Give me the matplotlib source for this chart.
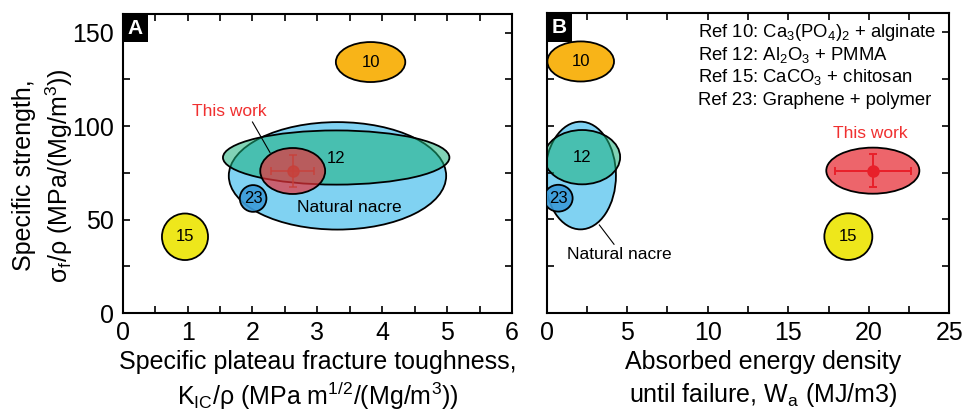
"""
Specific strength vs. toughness / absorbed energy for nacre-like composites
"""

import matplotlib
matplotlib.use('Agg')
import matplotlib.pyplot as plt
from matplotlib.patches import Ellipse, Rectangle
from matplotlib.ticker import MultipleLocator

plt.rcParams['font.family'] = ['Liberation Sans', 'DejaVu Sans']
plt.rcParams['mathtext.fontset'] = 'custom'
plt.rcParams['mathtext.rm'] = 'Liberation Sans'
plt.rcParams['mathtext.it'] = 'Liberation Sans:italic'
plt.rcParams['mathtext.bf'] = 'Liberation Sans:bold'

# Literature composites (ellipse centres and full spans)
ref_labels = ['10', '12', '15', '23']
ref_colors = ['#F8B418', '#1AB07A', '#EEE71B', '#3A9BD9']
ref_alpha = [1.0, 0.55, 1.0, 0.9]
ref_strength = [134.3, 83.2, 40.8, 61.3]
ref_strength_span = [21.4, 29.0, 24.9, 14.3]
ref_toughness = [3.82, 3.29, 0.96, 2.01]
ref_toughness_span = [1.07, 3.49, 0.71, 0.41]
ref_energy = [2.11, 2.2, 18.73, 0.72]
ref_energy_span = [4.14, 4.72, 2.98, 1.78]
ref_legend = ['Ref 10: Ca$_3$(PO$_4$)$_2$ + alginate',
              'Ref 12: Al$_2$O$_3$ + PMMA',
              'Ref 15: CaCO$_3$ + chitosan',
              'Ref 23: Graphene + polymer']

# Natural nacre
nacre_strength = 73.4
nacre_strength_span = 57.5
nacre_toughness = 3.31
nacre_toughness_span = 3.35
nacre_energy = 2.1
nacre_energy_span = 4.4

# This work (mean +/- error, plus ellipse span)
work_strength = 76.0
work_strength_err = 8.7
work_strength_span = 24.6
work_toughness = 2.62
work_toughness_err = 0.33
work_toughness_span = 1.0
work_energy = 20.25
work_energy_err = 2.36
work_energy_span = 5.78

RED = '#E8323A'
EDGE_LW = 1.3
LABEL_SIZE = 18


def add_ellipse(ax, x, y, w, h, color, alpha=1.0, z=2):
    ax.add_patch(Ellipse((x, y), w, h, facecolor=color, alpha=alpha,
                         edgecolor='none', zorder=z))
    ax.add_patch(Ellipse((x, y), w, h, facecolor='none', edgecolor='black',
                         linewidth=EDGE_LW, zorder=z + 0.1))


def style_axes(ax):
    ax.tick_params(which='both', direction='in', top=True, right=True,
                   length=5, width=1.2, labelsize=LABEL_SIZE, pad=6)
    for sp in ax.spines.values():
        sp.set_linewidth(1.5)


def panel_tag(ax, letter):
    ax.add_patch(Rectangle((0, 0.905), 0.064, 0.095, transform=ax.transAxes,
                           facecolor='black', edgecolor='none', zorder=10,
                           clip_on=False))
    ax.text(0.032, 0.952, letter, transform=ax.transAxes, color='white',
            fontsize=15, fontweight='bold', ha='center', va='center', zorder=11)


fig = plt.figure(figsize=(9.63, 4.11), dpi=100)
axA = fig.add_axes([0.1274, 0.2384, 0.4043, 0.7275])
axB = fig.add_axes([0.5677, 0.2384, 0.4181, 0.7292])

# ---- Panel A: strength vs fracture toughness ----
add_ellipse(axA, nacre_toughness, nacre_strength, nacre_toughness_span,
            nacre_strength_span, '#80D2F2', z=1)
order = [1, 3, 0, 2]
for i in order:
    add_ellipse(axA, ref_toughness[i], ref_strength[i], ref_toughness_span[i],
                ref_strength_span[i], ref_colors[i], ref_alpha[i], z=2 + i * 0.2)
add_ellipse(axA, work_toughness, work_strength, work_toughness_span,
            work_strength_span, RED, 0.7, z=4)
axA.errorbar(work_toughness, work_strength, xerr=work_toughness_err,
             yerr=work_strength_err, fmt='o', color='#C8403A', ms=8,
             elinewidth=1.2, capsize=3, capthick=1.2, alpha=0.85, zorder=5)

for i in [0, 2, 3]:
    axA.text(ref_toughness[i], ref_strength[i], ref_labels[i], fontsize=12,
             ha='center', va='center', zorder=6)
axA.text(3.29, 82.6, '12', fontsize=12, ha='center', va='center', zorder=6)
axA.text(3.5, 56.3, 'Natural nacre', fontsize=12.5, ha='center', va='center',
         zorder=6)
axA.text(1.65, 107.9, 'This work', fontsize=12.5, color='#F03030',
         ha='center', va='center', zorder=6)
axA.plot([2.0, 2.27], [102.2, 85.9], color='black', lw=0.8, zorder=6)

axA.set_xlim(0, 6)
axA.set_ylim(0, 160)
axA.xaxis.set_major_locator(MultipleLocator(1))
axA.xaxis.set_minor_locator(MultipleLocator(0.5))
axA.yaxis.set_major_locator(MultipleLocator(50))
axA.yaxis.set_minor_locator(MultipleLocator(25))
style_axes(axA)
axA.set_xlabel('Specific plateau fracture toughness,\n'
               'K$_\\mathrm{IC}$/ρ (MPa m$^\\mathrm{1/2}$/(Mg/m$^\\mathrm{3}$))',
               fontsize=LABEL_SIZE, linespacing=1.2)
axA.xaxis.set_label_coords(0.5, -0.125)
axA.xaxis.label.set_va('top')
axA.set_ylabel('Specific strength,\n'
               'σ$_\\mathrm{f}$/ρ (MPa/(Mg/m$^\\mathrm{3}$))',
               fontsize=LABEL_SIZE, linespacing=1.33)
axA.yaxis.set_label_coords(-0.122, 0.46)
panel_tag(axA, 'A')

# ---- Panel B: strength vs absorbed energy ----
add_ellipse(axB, nacre_energy, nacre_strength, nacre_energy_span,
            nacre_strength_span, '#80D2F2', z=1)
for i in order:
    add_ellipse(axB, ref_energy[i], ref_strength[i], ref_energy_span[i],
                ref_strength_span[i], ref_colors[i], ref_alpha[i], z=2 + i * 0.2)
add_ellipse(axB, work_energy, work_strength, work_energy_span,
            work_strength_span, RED, 0.75, z=4)
axB.errorbar(work_energy, work_strength, xerr=work_energy_err,
             yerr=work_strength_err, fmt='o', color='#E8202A', ms=8,
             elinewidth=1.4, capsize=3, capthick=1.4, zorder=5)

for i in range(4):
    axB.text(ref_energy[i], ref_strength[i], ref_labels[i], fontsize=12,
             ha='center', va='center', zorder=6)
axB.text(4.49, 31.0, 'Natural nacre', fontsize=12.5, ha='center', va='center',
         zorder=6)
axB.plot([3.27, 4.18], [47.0, 36.7], color='black', lw=0.8, zorder=6)
axB.text(20.1, 96.0, 'This work', fontsize=12.5, color='#F03030',
         ha='center', va='center', zorder=6)

for k, line in enumerate(ref_legend):
    axB.text(9.4, 150 - k * 12.1, line, fontsize=13.3, ha='left',
             va='center', zorder=6)

axB.set_xlim(0, 25)
axB.set_ylim(0, 160)
axB.xaxis.set_major_locator(MultipleLocator(5))
axB.xaxis.set_minor_locator(MultipleLocator(2.5))
axB.yaxis.set_major_locator(MultipleLocator(50))
axB.yaxis.set_minor_locator(MultipleLocator(25))
style_axes(axB)
axB.tick_params(axis='y', labelleft=False)
axB.set_xlabel('Absorbed energy density\n'
               'until failure, W$_\\mathrm{a}$ (MJ/m3)',
               fontsize=LABEL_SIZE, linespacing=1.3)
axB.xaxis.set_label_coords(0.537, -0.125)
axB.xaxis.label.set_va('top')
panel_tag(axB, 'B')

fig.savefig('out.png', dpi=100)
